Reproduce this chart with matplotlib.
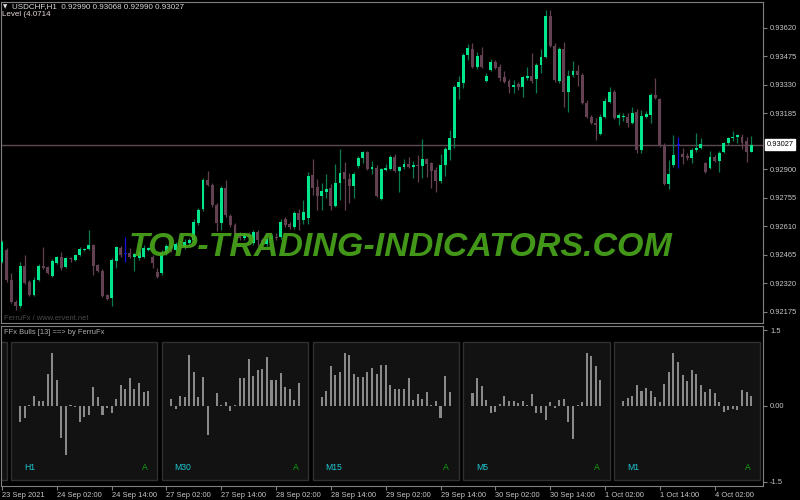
import matplotlib
matplotlib.use("Agg")
import matplotlib.pyplot as plt
import numpy as np
from matplotlib.patches import Rectangle

# USDCHF H1 candles (oldest first)
opens = [0.92429, 0.92489, 0.92337, 0.92225, 0.92204, 0.92408, 0.92327, 0.92261, 0.92337, 0.92408,
         0.92403, 0.92358, 0.92424, 0.92454, 0.92403, 0.92449, 0.92439, 0.92464, 0.92489, 0.92494,
         0.92515, 0.92413, 0.92383, 0.92261, 0.92245, 0.92434, 0.92499, 0.92469, 0.92474, 0.92454,
         0.92449, 0.92454, 0.92489, 0.92454, 0.92378, 0.92373, 0.92474, 0.92510, 0.92489, 0.92520,
         0.92504, 0.92525, 0.92540, 0.92627, 0.92698, 0.92846, 0.92821, 0.92719, 0.92627, 0.92805,
         0.92663, 0.92617, 0.92571, 0.92550, 0.92566, 0.92525, 0.92581, 0.92540, 0.92520, 0.92545,
         0.92555, 0.92555, 0.92647, 0.92622, 0.92607, 0.92678, 0.92642, 0.92652, 0.92871, 0.92810,
         0.92765, 0.92785, 0.92805, 0.92714, 0.92831, 0.92887, 0.92851, 0.92816, 0.92917, 0.92958,
         0.92988, 0.92902, 0.92907, 0.92749, 0.92897, 0.92902, 0.92963, 0.92892, 0.92912, 0.92928,
         0.92912, 0.92922, 0.92917, 0.92953, 0.92933, 0.92897, 0.92841, 0.92922, 0.92998, 0.93059,
         0.93319, 0.93340, 0.93482, 0.93512, 0.93421, 0.93482, 0.93350, 0.93406, 0.93447, 0.93421,
         0.93370, 0.93350, 0.93319, 0.93335, 0.93319, 0.93365, 0.93375, 0.93360, 0.93431, 0.93472,
         0.93680, 0.93527, 0.93350, 0.93512, 0.93294, 0.93380, 0.93401, 0.93380, 0.93238, 0.93166,
         0.93136, 0.93080, 0.93166, 0.93243, 0.93294, 0.93161, 0.93166, 0.93166, 0.93136, 0.93192,
         0.92998, 0.93166, 0.93177, 0.93278, 0.93258, 0.93024, 0.92826, 0.92922, 0.93024, 0.92978,
         0.92968, 0.92958, 0.92998, 0.93008, 0.92933, 0.92907, 0.92963, 0.92943, 0.92988, 0.93034,
         0.93059, 0.93065, 0.93065, 0.93044, 0.92990]
highs = [0.92540, 0.92499, 0.92373, 0.92235, 0.92429, 0.92464, 0.92337, 0.92352, 0.92419, 0.92504,
         0.92408, 0.92444, 0.92459, 0.92480, 0.92454, 0.92454, 0.92469, 0.92504, 0.92499, 0.92591,
         0.92520, 0.92419, 0.92393, 0.92266, 0.92449, 0.92510, 0.92510, 0.92555, 0.92499, 0.92474,
         0.92489, 0.92515, 0.92504, 0.92464, 0.92398, 0.92489, 0.92520, 0.92525, 0.92530, 0.92535,
         0.92545, 0.92550, 0.92647, 0.92703, 0.92856, 0.92892, 0.92831, 0.92729, 0.92816, 0.92846,
         0.92673, 0.92627, 0.92581, 0.92576, 0.92581, 0.92591, 0.92591, 0.92550, 0.92560, 0.92571,
         0.92576, 0.92647, 0.92657, 0.92632, 0.92688, 0.92698, 0.92744, 0.92887, 0.92953, 0.92851,
         0.92831, 0.92876, 0.92826, 0.92928, 0.93003, 0.92938, 0.92882, 0.92887, 0.92968, 0.92993,
         0.92993, 0.92943, 0.92922, 0.92907, 0.92928, 0.92973, 0.92978, 0.92917, 0.92953, 0.92963,
         0.92943, 0.92973, 0.93054, 0.92958, 0.92938, 0.92912, 0.92978, 0.93014, 0.93100, 0.93330,
         0.93375, 0.93492, 0.93538, 0.93543, 0.93497, 0.93523, 0.93391, 0.93462, 0.93457, 0.93437,
         0.93401, 0.93360, 0.93355, 0.93345, 0.93375, 0.93421, 0.93492, 0.93442, 0.93512, 0.93711,
         0.93711, 0.93543, 0.93523, 0.93548, 0.93406, 0.93452, 0.93431, 0.93391, 0.93253, 0.93177,
         0.93161, 0.93182, 0.93263, 0.93319, 0.93304, 0.93187, 0.93187, 0.93187, 0.93217, 0.93207,
         0.93202, 0.93197, 0.93289, 0.93365, 0.93263, 0.93034, 0.92948, 0.93075, 0.93065, 0.93008,
         0.92983, 0.93008, 0.93085, 0.93059, 0.92938, 0.92993, 0.92973, 0.92993, 0.93039, 0.93065,
         0.93095, 0.93080, 0.93080, 0.93065, 0.93068]
lows = [0.92424, 0.92327, 0.92220, 0.92184, 0.92194, 0.92317, 0.92256, 0.92256, 0.92332, 0.92393,
        0.92368, 0.92352, 0.92419, 0.92388, 0.92398, 0.92429, 0.92434, 0.92459, 0.92484, 0.92489,
        0.92363, 0.92378, 0.92251, 0.92235, 0.92204, 0.92398, 0.92454, 0.92429, 0.92449, 0.92383,
        0.92439, 0.92449, 0.92484, 0.92398, 0.92347, 0.92363, 0.92464, 0.92480, 0.92480, 0.92494,
        0.92494, 0.92515, 0.92530, 0.92617, 0.92688, 0.92816, 0.92708, 0.92586, 0.92591, 0.92657,
        0.92607, 0.92560, 0.92540, 0.92540, 0.92545, 0.92515, 0.92510, 0.92504, 0.92510, 0.92535,
        0.92540, 0.92545, 0.92607, 0.92597, 0.92597, 0.92591, 0.92622, 0.92622, 0.92770, 0.92693,
        0.92693, 0.92754, 0.92693, 0.92708, 0.92744, 0.92693, 0.92729, 0.92754, 0.92907, 0.92933,
        0.92897, 0.92876, 0.92760, 0.92744, 0.92892, 0.92897, 0.92887, 0.92785, 0.92902, 0.92907,
        0.92856, 0.92836, 0.92856, 0.92861, 0.92805, 0.92785, 0.92831, 0.92866, 0.92948, 0.93008,
        0.93258, 0.93314, 0.93457, 0.93416, 0.93411, 0.93416, 0.93345, 0.93401, 0.93411, 0.93350,
        0.93340, 0.93289, 0.93289, 0.93304, 0.93268, 0.93355, 0.93340, 0.93289, 0.93391, 0.93467,
        0.93523, 0.93345, 0.93340, 0.93217, 0.93192, 0.93370, 0.93324, 0.93233, 0.93161, 0.93131,
        0.93049, 0.93075, 0.93161, 0.93238, 0.93156, 0.93126, 0.93146, 0.93116, 0.93131, 0.92983,
        0.92983, 0.93161, 0.93136, 0.93258, 0.93014, 0.92821, 0.92800, 0.92912, 0.92907, 0.92928,
        0.92948, 0.92933, 0.92988, 0.93003, 0.92882, 0.92902, 0.92938, 0.92887, 0.92983, 0.93024,
        0.93044, 0.93034, 0.93003, 0.92938, 0.92990]
closes = [0.92530, 0.92337, 0.92225, 0.92204, 0.92408, 0.92322, 0.92261, 0.92337, 0.92408, 0.92398,
          0.92373, 0.92434, 0.92454, 0.92398, 0.92449, 0.92444, 0.92464, 0.92494, 0.92494, 0.92515,
          0.92408, 0.92383, 0.92256, 0.92240, 0.92439, 0.92504, 0.92464, 0.92469, 0.92454, 0.92469,
          0.92480, 0.92499, 0.92499, 0.92424, 0.92352, 0.92474, 0.92510, 0.92489, 0.92520, 0.92504,
          0.92530, 0.92540, 0.92632, 0.92693, 0.92846, 0.92821, 0.92719, 0.92627, 0.92805, 0.92668,
          0.92617, 0.92571, 0.92550, 0.92566, 0.92555, 0.92581, 0.92540, 0.92520, 0.92545, 0.92555,
          0.92550, 0.92632, 0.92617, 0.92607, 0.92678, 0.92642, 0.92683, 0.92866, 0.92805, 0.92765,
          0.92790, 0.92800, 0.92714, 0.92831, 0.92882, 0.92851, 0.92816, 0.92876, 0.92958, 0.92988,
          0.92902, 0.92912, 0.92765, 0.92902, 0.92907, 0.92963, 0.92892, 0.92912, 0.92928, 0.92912,
          0.92922, 0.92917, 0.92953, 0.92928, 0.92892, 0.92841, 0.92922, 0.93003, 0.93059, 0.93319,
          0.93345, 0.93482, 0.93517, 0.93421, 0.93477, 0.93421, 0.93375, 0.93447, 0.93416, 0.93365,
          0.93345, 0.93319, 0.93330, 0.93319, 0.93370, 0.93375, 0.93350, 0.93431, 0.93472, 0.93680,
          0.93527, 0.93355, 0.93512, 0.93294, 0.93375, 0.93401, 0.93380, 0.93238, 0.93166, 0.93136,
          0.93126, 0.93166, 0.93248, 0.93294, 0.93161, 0.93177, 0.93172, 0.93136, 0.93187, 0.92998,
          0.93172, 0.93182, 0.93278, 0.93263, 0.93024, 0.92826, 0.92876, 0.92973, 0.93024, 0.92963,
          0.92958, 0.92998, 0.93008, 0.93029, 0.92887, 0.92963, 0.92943, 0.92983, 0.93034, 0.93059,
          0.93065, 0.93075, 0.93034, 0.92988, 0.93027]

time_labels = ["23 Sep 2021", "24 Sep 02:00", "24 Sep 14:00", "27 Sep 02:00", "27 Sep 14:00",
               "28 Sep 02:00", "28 Sep 14:00", "29 Sep 02:00", "29 Sep 14:00", "30 Sep 02:00",
               "30 Sep 14:00", "1 Oct 02:00", "1 Oct 14:00", "4 Oct 02:00"]
# 0.93040 is hidden behind the last-price box in the screenshot
price_ticks = [0.92175, 0.92320, 0.92465, 0.92610, 0.92755, 0.92900, 0.93185, 0.93330,
               0.93475, 0.93620]
last_price = 0.93027

# FFx Bulls panels, one per timeframe
tf_names = ["H1", "M30", "M15", "M5", "M1"]
ffx_h1 = [-0.31, -0.24, 0.02, 0.2, 0.1, 0.09, 0.63, 1.05, 0.51, -0.64, -0.97, 0.01, -0.02, -0.31, -0.21,
          -0.18, 0.38, 0.17, -0.18, -0.03, -0.13, 0.13, 0.41, 0.34, 0.55, 0.34, 0.45, 0.28, 0.3]
ffx_m30 = [0.14, -0.05, 0.2, 0.18, 1.0, 0.68, 0.17, 0.58, -0.57, 0.0, 0.26, 0.01, 0.07, -0.09, 0.01,
           0.55, 0.55, 0.92, 0.59, 0.72, 0.74, 0.97, 0.51, 0.51, 0.66, 0.38, 0.34, 0.12, 0.45]
ffx_m15 = [0.18, 0.3, 0.79, 0.61, 0.68, 1.04, 1.01, 0.64, 0.58, 0.57, 0.68, 0.76, 0.64, 0.81, 0.81,
           0.41, 0.33, 0.33, 0.34, 0.55, 0.12, 0.24, 0.14, 0.27, 0.02, 0.1, -0.24, 0.6, 0.27]
ffx_m5 = [0.25, 0.55, 0.39, 0.12, -0.13, -0.11, 0.03, 0.2, 0.1, 0.09, 0.05, 0.1, 0.01, 0.24, -0.13,
          -0.13, -0.28, 0.07, -0.03, 0.12, 0.14, -0.31, -0.66, 0.02, 0.07, 1.05, 0.99, 0.79, 0.51]
ffx_m1 = [0.1, 0.15, 0.2, 0.41, 0.3, 0.35, 0.3, 0.17, 0.07, 0.43, 0.68, 1.04, 0.86, 0.61, 0.49, 0.71,
          0.64, 0.41, 0.27, 0.33, 0.25, 0.07, -0.11, -0.07, -0.06, -0.08, 0.32, 0.27, 0.2]

plt.rcParams['font.family'] = ["Liberation Sans", "DejaVu Sans"]
GRAY = "#808080"
TXT = "#c8c8c8"
FS = 5.4

fig = plt.figure(figsize=(8, 5), dpi=100, facecolor="black")
ax = fig.add_axes([1 / 800, 1 - 323 / 500, 762 / 800, 321 / 500], facecolor="black")
ax2 = fig.add_axes([1 / 800, 1 - 486 / 500, 762 / 800, 160 / 500], facecolor="black", sharex=ax)

o = np.array(opens)
h = np.array(highs)
l = np.array(lows)
c = np.array(closes)
x = np.arange(len(o))
up = c > o
doji = c == o

body_col = np.where(up, "#00e68c", "#634152").astype(object)
wick_col = np.where(up, "#0b7a4e", "#634152").astype(object)
body_col[doji] = "#1010e0"
wick_col[doji] = "#1010e0"

ax.axhline(last_price, color="#5c4a52", lw=1, zorder=1)
ax.vlines(x, l, h, colors=list(wick_col), lw=0.9, zorder=2)
body_h = np.maximum(np.abs(c - o), 0.00004)
ax.bar(x, body_h, bottom=np.minimum(o, c), width=0.64, color=list(body_col), zorder=3)

ax.set_xlim(-0.22, 166.6)
ax.set_ylim(0.92119, 0.93752)
ax.yaxis.tick_right()
ax.set_yticks(price_ticks)
ax.set_yticklabels(["%.5f" % p for p in price_ticks])
ax.tick_params(axis="y", colors=GRAY, labelcolor=TXT, labelsize=FS, length=3, pad=2)
ax.tick_params(axis="x", bottom=False, labelbottom=False)
for s in ax.spines.values():
    s.set_color(GRAY)

ax.annotate("%.5f" % last_price, xy=(1, last_price), xycoords=("axes fraction", "data"),
            xytext=(2.5, 0), textcoords="offset points", ha="left", va="center",
            fontsize=FS, color="black",
            bbox=dict(boxstyle="square,pad=0.25", fc="white", ec="white"))

# indicator sub-window
ax2.set_ylim(-1.58, 1.58)
box_bottom, box_top = -1.46, 1.262
ax2.add_patch(Rectangle((-31, box_bottom), 32, box_top - box_bottom, fc="#121212", ec="#303030", lw=1))
for b, vals in enumerate([ffx_h1, ffx_m30, ffx_m15, ffx_m5, ffx_m1]):
    left = 2 + 33 * b
    ax2.add_patch(Rectangle((left, box_bottom), 32, box_top - box_bottom,
                            fc="#121212", ec="#303030", lw=1, zorder=1))
    ax2.bar(left + 2 + np.arange(len(vals)), vals, width=0.45, color="#8a8a8a", zorder=2)
    ax2.text(left + 2.8, -1.22, tf_names[b], color="#1ec8d2", fontsize=6.2, va="center", zorder=3)
    ax2.text(left + 28.6, -1.22, "A", color="#10a810", fontsize=6.2, va="center", zorder=3)

ax2.yaxis.tick_right()
ax2.set_yticks([1.5, 0, -1.5])
ax2.set_yticklabels(["1.5", "0.00", "-1.5"])
ax2.tick_params(axis="y", colors=GRAY, labelcolor=TXT, labelsize=FS, length=3, pad=2)
ax2.set_xticks(np.arange(len(time_labels)) * 12)
ax2.set_xticklabels(time_labels)
ax2.tick_params(axis="x", colors=GRAY, labelcolor=TXT, labelsize=FS, length=3, pad=1)
for lab in ax2.get_xticklabels():
    lab.set_ha("left")
for s in ax2.spines.values():
    s.set_color(GRAY)

def fpos(px, py):
    return px / 800, 1 - py / 500

fig.text(*fpos(3, 7), "\u25bc", fontsize=4, color="#e0e0e0", va="center", family="DejaVu Sans")
fig.text(*fpos(12, 7), "USDCHF,H1  0.92990 0.93068 0.92990 0.93027", fontsize=5.8,
         color="#d8d8d8", va="center")
fig.text(*fpos(2, 15), "Level (4.0714", fontsize=5.8, color="#e8d8d8", va="center")
fig.text(*fpos(4, 318), "FerruFx / www.ervent.net", fontsize=FS, color="#4a4a4a", va="center")
fig.text(*fpos(4, 332), "FFx Bulls [13] ==> by FerruFx", fontsize=FS, color="#b0b0b0", va="center")

fig.text(*fpos(401, 248), "TOP-TRADING-INDICATORS.COM", fontsize=24.5, fontweight="bold",
         style="italic", color="#48a51b", alpha=0.92, ha="center", va="center")

plt.savefig("out.png", dpi=100, facecolor="black")
